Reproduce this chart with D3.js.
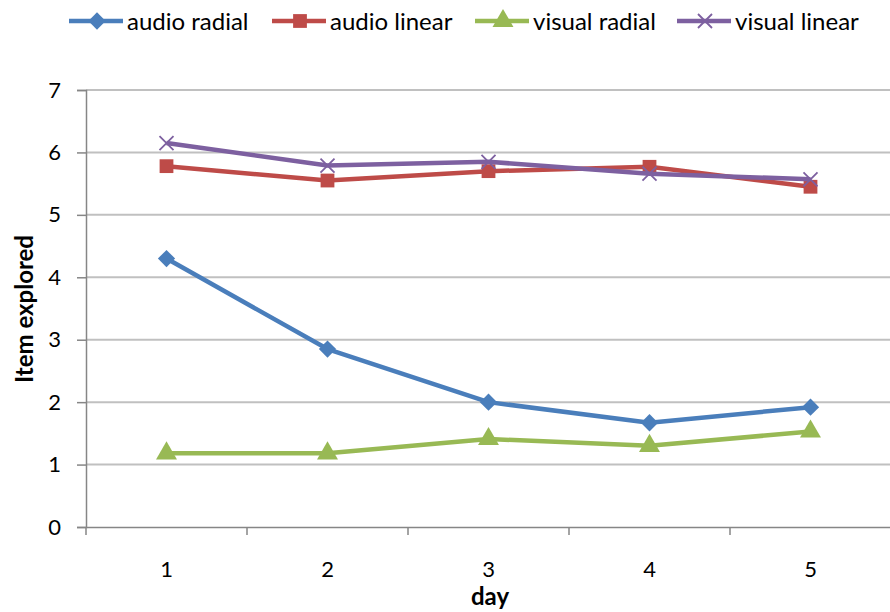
<!DOCTYPE html>
<html>
<head>
<meta charset="utf-8">
<script src="https://cdn.jsdelivr.net/npm/d3@7"></script>
<style>
  body { margin: 0; background: #fff; }
  text { font-family: Lato, "Open Sans", sans-serif; fill: #000; }
</style>
</head>
<body>
<div id="chart"></div>
<script>
const days = ["1", "2", "3", "4", "5"];
const audioRadial = [4.30, 2.85, 2.00, 1.67, 1.92];
const audioLinear = [5.78, 5.55, 5.70, 5.77, 5.45];
const visualRadial = [1.18, 1.18, 1.41, 1.30, 1.53];
const visualLinear = [6.15, 5.79, 5.85, 5.66, 5.57];
const yTicks = [0, 1, 2, 3, 4, 5, 6, 7];

const series = [
    {name: "audio radial", values: audioRadial, color: "#4a7ebb", shape: d3.symbolDiamond2},
    {name: "audio linear", values: audioLinear, color: "#be4b48", shape: d3.symbolSquare},
    {name: "visual radial", values: visualRadial, color: "#98b954", shape: d3.symbolTriangle},
    {name: "visual linear", values: visualLinear, color: "#7d60a0", shape: d3.symbolX}
];

const width = 890, height = 612;
const margin = {left: 86, right: 0, top: 90, bottom: 85};

const svg = d3.select("#chart")
    .append("svg")
    .attr("width", width)
    .attr("height", height);

const x = d3.scaleBand()
    .domain(days)
    .range([margin.left, 891]);

const y = d3.scaleLinear()
    .domain([0, 7])
    .range([height - margin.bottom, margin.top]);

// gridlines
svg.append("g")
    .selectAll("line")
    .data(yTicks.slice(1))
    .join("line")
    .attr("x1", margin.left)
    .attr("x2", width)
    .attr("y1", d => y(d))
    .attr("y2", d => y(d))
    .style("stroke", "#c0c0c0")
    .style("stroke-width", 2);

// y axis
const yAxis = svg.append("g")
    .attr("transform", "translate(" + margin.left + ",0)")
    .call(d3.axisLeft(y).tickValues(yTicks).tickFormat(d3.format("d")).tickSize(9).tickPadding(16));
yAxis.select(".domain").style("stroke", "#868686").style("stroke-width", 1.5);
yAxis.selectAll(".tick line").style("stroke", "#868686").style("stroke-width", 1.5);
yAxis.selectAll("text").style("font-size", "22px").style("font-family", "Lato, sans-serif");

// x axis
const xAxis = svg.append("g")
    .attr("transform", "translate(0," + y(0) + ")")
    .call(d3.axisBottom(x).tickSize(0).tickPadding(34));
xAxis.select(".domain").style("stroke", "#868686").style("stroke-width", 1.5);
xAxis.selectAll("text").style("font-size", "22px").style("font-family", "Lato, sans-serif");
xAxis.selectAll(".sep")
    .data(d3.range(days.length + 1))
    .join("line")
    .attr("class", "sep")
    .attr("x1", i => margin.left + i * x.step())
    .attr("x2", i => margin.left + i * x.step())
    .attr("y1", 0)
    .attr("y2", 8)
    .style("stroke", "#868686")
    .style("stroke-width", 1.5);

// lines
const line = d3.line()
    .x((d, i) => x(days[i]) + x.bandwidth() / 2)
    .y(d => y(d));

series.forEach(s => {
    svg.append("path")
        .datum(s.values)
        .attr("d", line)
        .style("fill", "none")
        .style("stroke", s.color)
        .style("stroke-width", 4.5)
        .style("stroke-linejoin", "round");

    const isX = s.shape === d3.symbolX;
    svg.append("g")
        .selectAll("path")
        .data(s.values)
        .join("path")
        .attr("transform", (d, i) => "translate(" + (x(days[i]) + x.bandwidth() / 2) + "," + y(d) + ")")
        .attr("d", d3.symbol().type(s.shape).size(isX ? 130 : 190))
        .style("fill", isX ? "none" : s.color)
        .style("stroke", s.color)
        .style("stroke-width", isX ? 1.8 : 0);
});

// axis titles
svg.append("text")
    .attr("transform", "translate(33," + 309 + ") rotate(-90)")
    .attr("text-anchor", "middle")
    .style("font-size", "24px")
    .style("font-weight", "bold")
    .text("Item explored");

svg.append("text")
    .attr("x", 490)
    .attr("y", 605)
    .attr("text-anchor", "middle")
    .style("font-size", "24px")
    .style("font-weight", "bold")
    .text("day");

// legend
const legendX = [69, 272, 475, 677];
const legend = svg.append("g");
series.forEach((s, i) => {
    const lx = legendX[i];
    legend.append("line")
        .attr("x1", lx)
        .attr("x2", lx + 54)
        .attr("y1", 21)
        .attr("y2", 21)
        .style("stroke", s.color)
        .style("stroke-width", 4.5);
    const isX = s.shape === d3.symbolX;
    legend.append("path")
        .attr("transform", "translate(" + (lx + 28) + ",21)")
        .attr("d", d3.symbol().type(s.shape).size(isX ? 130 : 190))
        .style("fill", isX ? "none" : s.color)
        .style("stroke", s.color)
        .style("stroke-width", isX ? 1.8 : 0);
    legend.append("text")
        .attr("x", lx + 58)
        .attr("y", 22)
        .attr("dy", "0.35em")
        .style("font-size", "24px")
        .text(s.name);
});
</script>
</body>
</html>
